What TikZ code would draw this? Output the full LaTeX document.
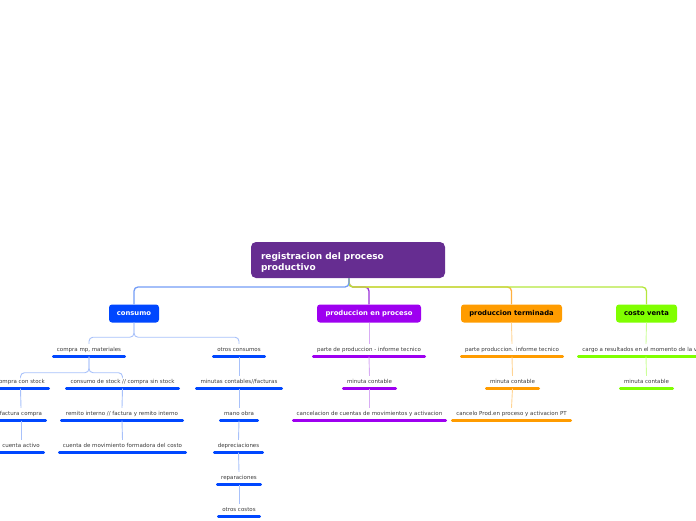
\documentclass[tikz,border=0pt]{standalone}
\usepackage{fontspec}
\setmainfont{DejaVu Sans}
\definecolor{rootc}{HTML}{662D91}
\definecolor{cblue}{HTML}{0047FF}
\definecolor{cpurp}{HTML}{9E00F0}
\definecolor{corange}{HTML}{FF9C00}
\definecolor{cgreen}{HTML}{80FF00}
\definecolor{lblue}{HTML}{739CF6}
\definecolor{lpurp}{HTML}{9A30D8}
\definecolor{lorange}{HTML}{FFB040}
\definecolor{lgreen}{HTML}{B4E63C}
\definecolor{xblue}{HTML}{A8C1FA}
\definecolor{xpurp}{HTML}{D8ACF4}
\definecolor{xorange}{HTML}{FFD494}
\definecolor{xgreen}{HTML}{CCFF99}
\definecolor{txtc}{HTML}{3A3A3A}
\tikzset{
  rootbox/.style={fill=rootc, rounded corners=5pt, text=white, font=\fontsize{9}{11}\selectfont\bfseries,
     minimum width=194pt, minimum height=36pt, inner xsep=10pt, text width=174pt, align=left},
  topbox/.style={rounded corners=3pt, font=\fontsize{6.8}{8}\selectfont\bfseries, minimum height=18pt, inner sep=0pt},
  item/.style={font=\fontsize{5.5}{6}\selectfont, text=txtc, inner sep=0pt, text height=7pt, text depth=5.5pt, anchor=base},
  bar/.style={line width=2.6pt, line cap=round},
  mainlink/.style={line width=1.3pt, rounded corners=4pt},
  sublink/.style={line width=0.9pt, rounded corners=4pt},
}
\newcommand\itm[6]{\node[item, minimum width=#4pt] (#1) at (#2,#3) {#6};
  \draw[bar, #5] (#1.south west) -- (#1.south east);}
\begin{document}
\begin{tikzpicture}[x=1pt, y=-1pt]
\useasboundingbox (0,0) rectangle (696,520);
% root
\node[rootbox] (root) at (348,260) {\rule{0pt}{12pt}registracion del proceso\\productivo};
\coordinate (stub) at (349,278);
% level 1
\node[topbox, fill=cblue, text=white, minimum width=50pt] (cons) at (134,313.5) {consumo};
\node[topbox, fill=cpurp, text=white, minimum width=104pt] (pep) at (369,313.5) {produccion en proceso};
\node[topbox, fill=corange, text=black, minimum width=101pt] (pter) at (511.5,313.5) {produccion terminada};
\node[topbox, fill=cgreen, text=black, minimum width=61pt] (cven) at (646.5,313.5) {costo venta};
% root links
\draw[mainlink, lpurp] (stub) -- ++(0,9) -| (pep.north);
\draw[mainlink, lorange] (stub) -- ++(0,9) -| (pter.north);
\draw[mainlink, lgreen] (stub) -- ++(0,9) -| (cven.north);
\draw[mainlink, lblue] (stub) -- ++(0,9) -| (cons.north);
% items consumo
\itm{cmp}{89}{351}{71}{cblue}{compra mp, materiales}
\itm{otr}{239}{351}{51}{cblue}{otros consumos}
\itm{ccs}{20.5}{383}{56}{cblue}{compra con stock}
\itm{cds}{122.5}{383}{112}{cblue}{consumo de stock // compra sin stock}
\itm{min}{239}{383}{85}{cblue}{minutas contables//facturas}
\itm{fac}{21}{415}{49}{cblue}{factura compra}
\itm{rem}{122}{415}{121}{cblue}{remito interno // factura y remito interno}
\itm{mo}{239}{415}{37}{cblue}{mano obra}
\itm{cta}{21}{447}{45}{cblue}{cuenta activo}
\itm{cmf}{122.5}{447}{126}{cblue}{cuenta de movimiento formadora del costo}
\itm{dep}{238.5}{447}{48}{cblue}{depreciaciones}
\itm{rep}{239}{479}{43}{cblue}{reparaciones}
\itm{oc}{239}{511}{41}{cblue}{otros costos}
% items produccion en proceso
\itm{pp1}{369}{351}{111}{cpurp}{parte de produccion - informe tecnico}
\itm{pp2}{369.5}{383}{52}{cpurp}{minuta contable}
\itm{pp3}{369.5}{415}{152}{cpurp}{cancelacion de cuentas de movimientos y activacion}
% items produccion terminada
\itm{pt1}{512}{351}{101}{corange}{parte produccion. informe tecnico}
\itm{pt2}{512.5}{383}{52}{corange}{minuta contable}
\itm{pt3}{511.5}{415}{118}{corange}{cancelo Prod.en proceso y activacion PT}
% items costo venta
\itm{cv1}{646}{351}{135}{cgreen}{cargo a resultados en el momento de la venta}
\itm{cv2}{646.5}{383}{52}{cgreen}{minuta contable}
% links consumo
\draw[sublink, xblue] (cons.south) -- ++(0,14.5) -| (cmp.north);
\draw[sublink, xblue] (cons.south) -- ++(0,14.5) -| (otr.north);
\draw[sublink, xblue] (cmp.south) -- ++(0,16) -| (ccs.north);
\draw[sublink, xblue] (cmp.south) -- ++(0,16) -| (cds.north);
\draw[sublink, xblue] (ccs.south) -- (fac.north);
\draw[sublink, xblue] (fac.south) -- (cta.north);
\draw[sublink, xblue] (cds.south) -- (rem.north);
\draw[sublink, xblue] (rem.south) -- (cmf.north);
\draw[sublink, xblue] (otr.south) -- (min.north);
\draw[sublink, xblue] (min.south) -- (mo.north);
\draw[sublink, xblue] (mo.south) -- (dep.north);
\draw[sublink, xblue] (dep.south) -- (rep.north);
\draw[sublink, xblue] (rep.south) -- (oc.north);
% links others
\draw[sublink, xpurp] (pep.south) -- (pp1.north);
\draw[sublink, xpurp] (pp1.south) -- (pp2.north);
\draw[sublink, xpurp] (pp2.south) -- (pp3.north);
\draw[sublink, xorange] (pter.south) -- (pt1.north);
\draw[sublink, xorange] (pt1.south) -- (pt2.north);
\draw[sublink, xorange] (pt2.south) -- (pt3.north);
\draw[sublink, xgreen] (cven.south) -- (cv1.north);
\draw[sublink, xgreen] (cv1.south) -- (cv2.north);
\end{tikzpicture}
\end{document}
